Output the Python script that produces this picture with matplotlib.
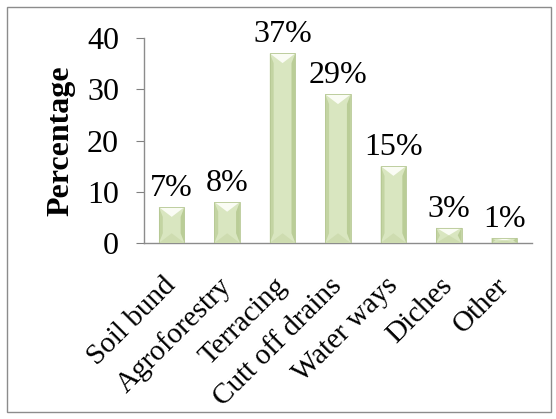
import numpy as np
import matplotlib.pyplot as plt
from matplotlib.patches import Polygon, Rectangle

categories = ['Soil bund', 'Agroforestry', 'Terracing', 'Cutt off drains',
              'Water ways', 'Diches', 'Other']
values = [7, 8, 37, 29, 15, 3, 1]
yticks = [0, 10, 20, 30, 40]

plt.rcParams['font.family'] = ['Liberation Serif', 'DejaVu Serif']

fig = plt.figure(figsize=(5.56, 4.19), dpi=100)
ax = fig.add_axes([144 / 556, 1 - 243 / 419, (532 - 144) / 556, (243 - 38) / 419])

x = np.arange(len(categories))
width = 0.46
face = '#d9e6c0'
edge = '#b5c793'
ax.bar(x, values, width=width, color=face, edgecolor='none', zorder=2)

# bevel look: darker side strips and a light triangle at the top / bottom
bev_x = width * 0.15
for xi, h in zip(x, values):
    left, right = xi - width / 2, xi + width / 2
    d = min(1.9, h / 2)
    ax.add_patch(Polygon([(left, 0), (left + bev_x, d), (left + bev_x, h - d), (left, h)],
                         closed=True, facecolor='#c3d4a2', edgecolor='none', zorder=3))
    ax.add_patch(Polygon([(right, 0), (right - bev_x, d), (right - bev_x, h - d), (right, h)],
                         closed=True, facecolor='#bacd97', edgecolor='none', zorder=3))
    ax.add_patch(Polygon([(left, h), (right, h), (xi, h - d)],
                         closed=True, facecolor='#fafcf4', edgecolor='none', zorder=3))
    ax.add_patch(Polygon([(left, 0), (right, 0), (xi, d)],
                         closed=True, facecolor='#cedcb0', edgecolor='none', zorder=3))
    ax.add_patch(Rectangle((left, 0), width, h, fill=False, edgecolor=edge,
                           linewidth=0.6, zorder=4))

for xi, h in zip(x, values):
    ax.annotate(f'{h}%', (xi, h), xytext=(0, 8), textcoords='offset points',
                ha='center', va='baseline', fontsize=23, zorder=5)

ax.set_xlim(-0.5, len(categories) - 0.5)
ax.set_ylim(0, 40)
ax.set_yticks(yticks)
ax.tick_params(axis='y', labelsize=23, length=6, color='#808080', pad=12)
ax.set_xticks(x)
ax.set_xticklabels(categories, rotation=45, ha='right', va='center',
                   rotation_mode='anchor', fontsize=21)
ax.tick_params(axis='x', length=0, pad=28)
ax.set_ylabel('Percentage', fontsize=23, fontweight='bold', labelpad=8)

for s in ['top', 'right']:
    ax.spines[s].set_visible(False)
for s in ['left', 'bottom']:
    ax.spines[s].set_color('#8c8c8c')
    ax.spines[s].set_linewidth(1.0)

# outer frame around the chart area
fig.add_artist(Rectangle((7 / 556, 7 / 419), (551 - 7) / 556, (412 - 7) / 419,
                         transform=fig.transFigure, fill=False,
                         edgecolor='#8c8c8c', linewidth=1.0))

fig.savefig('out.png', dpi=100)
